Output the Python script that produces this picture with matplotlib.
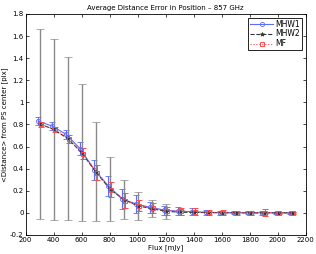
import matplotlib.pyplot as plt
from matplotlib.lines import Line2D
import numpy as np

# flux values [mJy]
flux = [300, 400, 500, 600, 700, 800, 900, 1000, 1100, 1200,
        1300, 1400, 1500, 1600, 1700, 1800, 1900, 2000, 2100]

# MHW1
mhw1 = [0.83, 0.785, 0.71, 0.58, 0.39, 0.245, 0.125, 0.08, 0.05, 0.025,
        0.015, 0.01, 0.004, 0.002, 0.001, 0.001, 0.001, 0.0, 0.0]
mhw1_err = [0.035, 0.035, 0.04, 0.06, 0.09, 0.093, 0.09, 0.08, 0.05, 0.04,
            0.035, 0.03, 0.02, 0.018, 0.015, 0.015, 0.018, 0.008, 0.008]

# MHW2
mhw2 = [0.806, 0.755, 0.673, 0.545, 0.372, 0.218, 0.12, 0.065, 0.037, 0.015,
        0.005, 0.005, 0.002, 0.001, 0.0, 0.0, 0.0, 0.0, 0.0]
mhw2_err = [0.858, 0.819, 0.734, 0.62, 0.449, 0.29, 0.18, 0.126, 0.075, 0.068,
            0.025, 0.02, 0.012, 0.01, 0.01, 0.01, 0.01, 0.005, 0.005]

# MF
mf = [0.80, 0.755, 0.67, 0.535, 0.365, 0.21, 0.11, 0.065, 0.04, 0.02,
      0.015, 0.01, 0.004, 0.002, 0.001, 0.001, 0.003, 0.0, 0.0]
mf_err = [0.02, 0.025, 0.035, 0.05, 0.065, 0.07, 0.07, 0.05, 0.045, 0.035,
          0.03, 0.03, 0.025, 0.02, 0.02, 0.02, 0.028, 0.008, 0.008]

plt.rcParams['font.family'] = 'DejaVu Sans'
plt.rcParams['font.size'] = 5

fig = plt.figure(figsize=(3.16, 2.54), dpi=100)
ax = fig.add_axes([0.081, 0.075, 0.887, 0.87])

x = np.array(flux)

blue = '#5c6cff'
red = '#ff4a4a'
dark = '#333333'

ax.errorbar(x - 10, mhw1, yerr=mhw1_err, color=blue, ls='-', lw=0.8,
            marker='o', ms=3, mfc='none', mew=0.6, capsize=2.5, elinewidth=0.8,
            capthick=0.8)
ax.errorbar(x, mhw2, yerr=mhw2_err, color=dark, ecolor='#8a8a8a', ls='--', lw=0.8,
            marker='*', ms=3, mew=0.5, capsize=3, elinewidth=1.0,
            capthick=0.8)
ax.errorbar(x + 10, mf, yerr=mf_err, color=red, ls=':', lw=0.8,
            marker='s', ms=2.8, mfc='none', mew=0.7, capsize=2.5, elinewidth=0.8,
            capthick=0.8)

ax.set_xlim(200, 2200)
ax.set_ylim(-0.2, 1.8)
ax.set_xticks(np.arange(200, 2201, 200))
ax.set_yticks(np.arange(-0.2, 1.81, 0.2))
ax.set_yticklabels(['-0.2', '0', '0.2', '0.4', '0.6', '0.8', '1', '1.2', '1.4', '1.6', '1.8'])
ax.tick_params(direction='in', length=2, width=0.5, top=True, right=True, pad=1.5)
for s in ax.spines.values():
    s.set_linewidth(0.6)

ax.set_title('Average Distance Error in Position \u2013 857 GHz', fontsize=5, pad=3)
ax.set_xlabel('Flux [mJy]', fontsize=5, labelpad=1)
ax.set_ylabel('<Distance> from PS center [pix]', fontsize=5, labelpad=1)

handles = [
    Line2D([], [], color=blue, ls='-', lw=0.8, marker='o', ms=3, mfc='none', mew=0.6),
    Line2D([], [], color=dark, ls='--', lw=0.8, marker='*', ms=3, mew=0.5),
    Line2D([], [], color=red, ls=':', lw=0.8, marker='s', ms=2.8, mfc='none', mew=0.7),
]
leg = ax.legend(handles, ['MHW1', 'MHW2', 'MF'], loc='upper right', fontsize=5.5,
                frameon=True, fancybox=False, edgecolor='black', borderpad=0.25,
                handlelength=3, labelspacing=0.1, handletextpad=0.3,
                borderaxespad=0.5, framealpha=1)
leg.get_frame().set_linewidth(0.6)

plt.savefig('out.png', dpi=100)
